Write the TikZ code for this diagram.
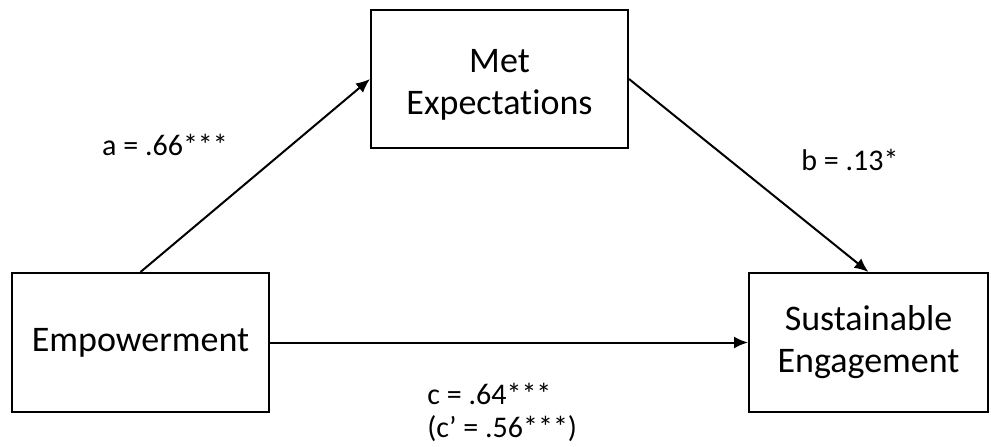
\documentclass[tikz,border=0pt]{standalone}
\usepackage{fontspec}
\setmainfont{Carlito}[Ligatures={NoCommon}]
\usepackage{tikz}
\usetikzlibrary{arrows.meta}

\tikzset{
  varbox/.style={draw, line width=1pt, align=center, inner sep=0pt,
    font=\fontsize{18}{21}\selectfont},
  path/.style={line width=1pt, -{Latex[length=7pt,width=6pt]}},
  coef/.style={inner sep=0pt, align=left, font=\fontsize{15}{16.5}\selectfont}
}

\begin{document}
\begin{tikzpicture}[x=0.5pt,y=-0.5pt]
    \useasboundingbox (0,0) rectangle (991,446);
    % variables
    \node[varbox, minimum width=128.5pt, minimum height=69pt] (met) at (499.5,79) {\mbox{}\\[-4pt]Met\\Expectations};
    \node[varbox, minimum width=128.5pt, minimum height=69.5pt] (emp) at (140.5,342.5) {Empowerment};
    \node[varbox, minimum width=119.5pt, minimum height=69.5pt] (sust) at (868.5,342.5) {Sustainable\\Engagement};
    % paths
    \draw[path] (emp.north) -- (met.west);
    \draw[path] (met.east) -- (sust.north);
    \draw[path] (emp.east) -- (sust.west);
    % coefficients
    \node[coef] (coefa) at (165,145) {a = .66***};
    \node[coef] (coefb) at (850,160) {b = .13*};
    \node[coef, anchor=west] (coefc) at (427,412) {c = .64***\\(c’ = .56***)};
  \end{tikzpicture}
\end{document}
